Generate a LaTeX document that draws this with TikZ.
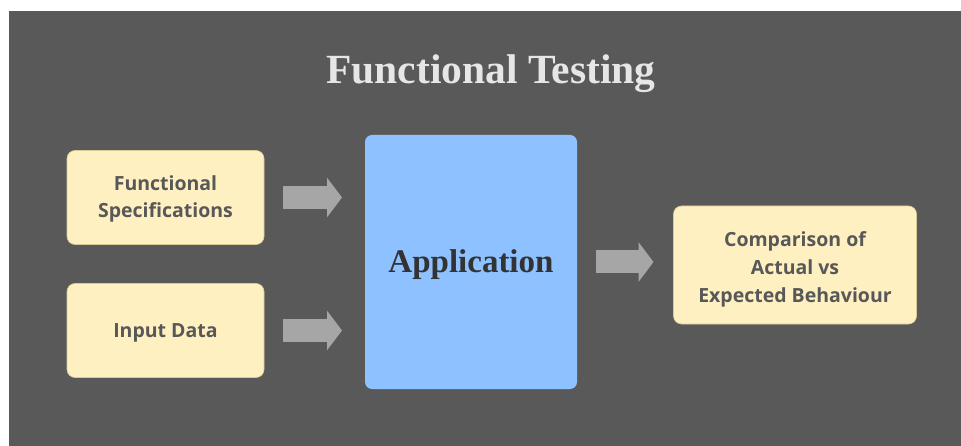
\documentclass[tikz,border=0pt]{standalone}
\usepackage{fontspec}
\setmainfont{Open Sans}
\newfontfamily\titlefont{Liberation Serif}
\usepackage{xcolor}
\usetikzlibrary{arrows.meta,positioning}

\definecolor{bggray}{HTML}{595959}
\definecolor{boxfill}{HTML}{FFF0C2}
\definecolor{boxedge}{HTML}{D8C999}
\definecolor{appblue}{HTML}{8EC1FF}
\definecolor{arrowgray}{HTML}{A6A6A6}
\definecolor{titlegray}{HTML}{E6E6E6}
\definecolor{textgray}{HTML}{585858}

\begin{document}
\begin{tikzpicture}[
    x=1pt, y=-1pt,
    inbox/.style={rectangle, rounded corners=8pt, fill=boxfill, draw=boxedge, line width=0.6pt,
        inner sep=0pt, outer sep=0pt, align=center, text=textgray, text depth=0pt,
        font=\fontsize{19.5}{27.5}\selectfont\bfseries},
    appbox/.style={rectangle, rounded corners=7pt, fill=appblue, inner sep=0pt, outer sep=0pt,
        minimum width=212pt, minimum height=254pt, text=black!80,
        text height=22pt, text depth=0pt,
        font=\titlefont\fontsize{33}{38}\selectfont\bfseries},
    blockarrow/.style={draw=arrowgray, line width=23pt,
        -{Triangle[length=15pt, width=39pt, fill=arrowgray]}}
]
% page and backdrop
\useasboundingbox (0,0) rectangle (961,446);
\fill[white] (0,0) rectangle (961,446);
\fill[bggray] (9,11) rectangle (961,446);

\node[text=titlegray, font=\titlefont\fontsize{41.5}{48}\selectfont\bfseries] (title) at (491,74) {Functional Testing};

\node[inbox, minimum width=197pt, minimum height=94pt, text height=41pt] (spec) at (165.5,197.5) {Functional\\Specifications};
\node[inbox, minimum width=197pt, minimum height=94pt, text height=14pt, below=39pt of spec] (data) {Input Data};
\node[appbox] (app) at (471,262) {Application};
\node[inbox, minimum width=243pt, minimum height=118pt, text height=74pt] (result) at (795,265) {Comparison of\\Actual vs\\Expected Behaviour};

\draw[blockarrow, shorten <=19pt, shorten >=23pt] (spec.east) -- (spec.east -| app.west);
\draw[blockarrow, shorten <=19pt, shorten >=23pt] (data.east) -- (data.east -| app.west);
\draw[blockarrow, shorten <=19pt, shorten >=20pt] (app.east) -- (app.east -| result.west);
\end{tikzpicture}
\end{document}
